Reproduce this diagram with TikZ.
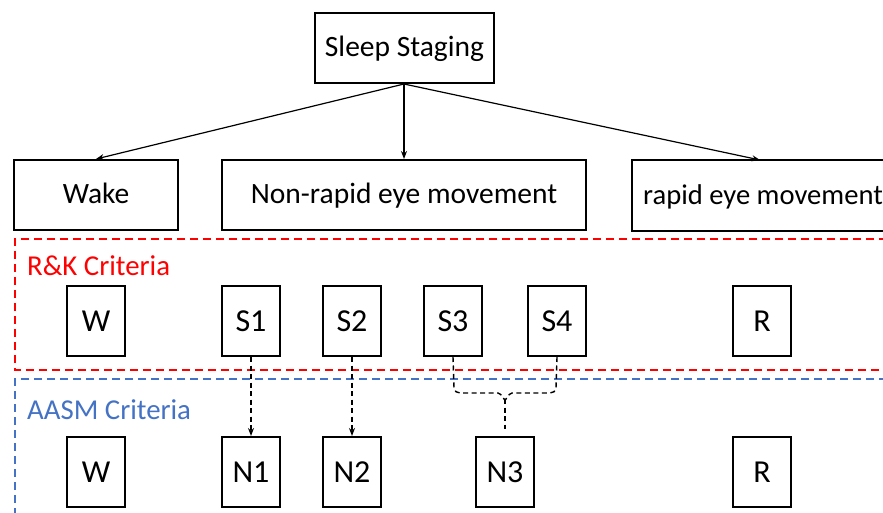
\documentclass[tikz,border=0pt]{standalone}
\usepackage{fontspec}
\setmainfont{Carlito}
\usetikzlibrary{arrows.meta}
\definecolor{rkred}{RGB}{255,0,0}
\definecolor{aasmblue}{RGB}{68,114,196}
\begin{document}
\begin{tikzpicture}[x=1pt,y=-1pt,
  bigbox/.style={draw,line width=2pt,minimum height=70pt,inner sep=0pt,text height=24pt,text depth=6pt,font=\fontsize{29.5}{34}\selectfont},
  stagebox/.style={draw,line width=2pt,minimum width=58pt,minimum height=70pt,inner sep=0pt,font=\fontsize{32}{36}\selectfont},
  arr/.style={-{Stealth[length=8pt,width=6pt]},line width=1.2pt},
  darr/.style={-{Stealth[length=8pt,width=6pt]},line width=1.4pt,dash pattern=on 5pt off 3.5pt},
  dline/.style={line width=1.4pt,dash pattern=on 5pt off 3.5pt},
  crit/.style={font=\fontsize{28.8}{34}\selectfont,anchor=west,inner sep=0pt}]
\useasboundingbox (0,0) rectangle (883,513);
\begin{scope}
\clip (0,0) rectangle (883,513);
% criteria frames
\draw[rkred,line width=2.6pt,dash pattern=on 8pt off 5pt] (900,239) -- (15,239) -- (15,370) -- (900,370);
\draw[aasmblue,line width=2.6pt,dash pattern=on 8pt off 5pt] (900,379) -- (15,379) -- (15,530);
% top
\node[bigbox,minimum width=179pt] (top) at (404.5,48) {Sleep Staging};
\node[bigbox,minimum width=164pt] (wake) at (96,195) {Wake};
\node[bigbox,minimum width=364pt] (nrem) at (404,195) {Non-rapid eye movement};
\node[bigbox,minimum width=262pt,anchor=west] (rem) at (631,195.5) {\hspace*{0pt}\fontsize{28.6}{34}\selectfont rapid eye movement\hfill};
\coordinate (o) at (404,84);
\coordinate (remtop) at (760,160);
\draw[arr] (o) -- (wake.north);
\draw[arr] (o) -- (nrem.north);
\draw[arr] (o) -- (remtop);
% R&K
\node[crit,rkred] (rk) at (27,266) {R\&K Criteria};
\node[stagebox] (w1) at (96,321) {W};
\node[stagebox] (s1) at (251,321) {S1};
\node[stagebox] (s2) at (352,321) {S2};
\node[stagebox] (s3) at (453,321) {S3};
\node[stagebox] (s4) at (557,321) {S4};
\node[stagebox] (r1) at (762,321) {R};
% AASM
\node[crit,aasmblue] (aasm) at (27,410) {AASM Criteria};
\node[stagebox] (w2) at (96,472) {W};
\node[stagebox] (n1) at (251,472) {N1};
\node[stagebox] (n2) at (352,472) {N2};
\node[stagebox] (n3) at (505,472) {N3};
\node[stagebox] (r2) at (762,472) {R};
% mappings
\draw[darr] (s1.south) -- (n1.north);
\draw[darr] (s2.south) -- (n2.north);
\coordinate (bm) at (505,399);
\draw[dline] (s3.south) -- (454,388) to[out=-90,in=180] (460,393) -- (498,393) to[out=0,in=-90] (bm);
\draw[dline] (s4.south) -- (556,388) to[out=-90,in=0] (550,393) -- (512,393) to[out=180,in=-90] (bm);
\draw[dline] (bm) -- (505,429);
\end{scope}
\end{tikzpicture}
\end{document}
